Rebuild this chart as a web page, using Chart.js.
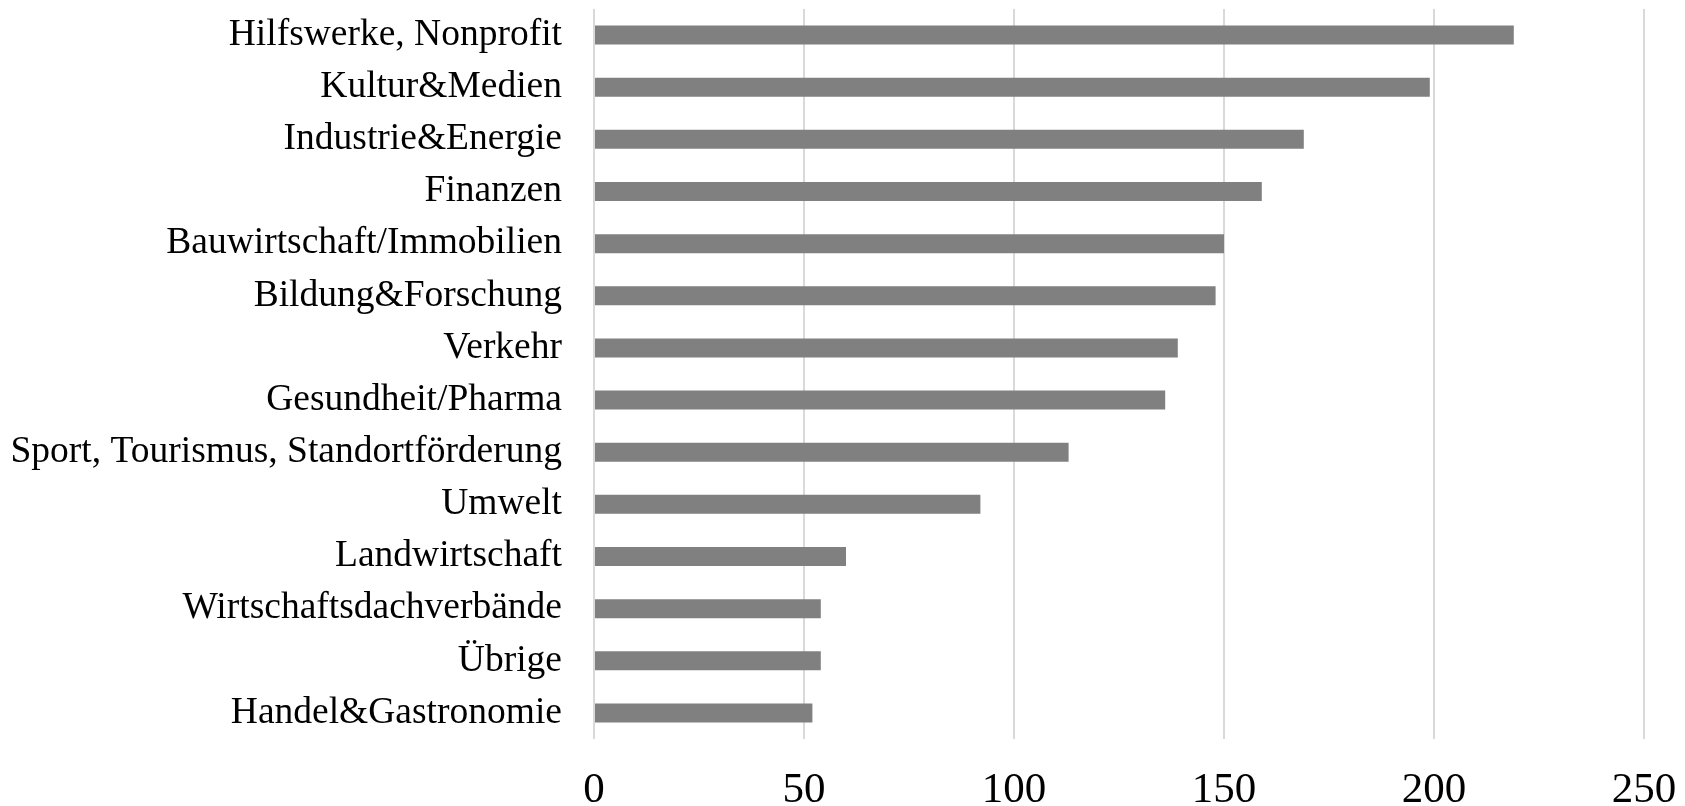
<!DOCTYPE html>
<html>
<head>
<meta charset="utf-8">
<script src="https://cdn.jsdelivr.net/npm/chart.js@4/dist/chart.umd.min.js"></script>
<style>
  html, body { margin: 0; padding: 0; background: #fff; }
  #wrap { width: 1685px; height: 806px; }
</style>
</head>
<body>
<div id="wrap"><canvas id="branchen_chart"></canvas></div>
<script>
// Categories and values
const categories = [
    "Hilfswerke, Nonprofit",
    "Kultur&Medien",
    "Industrie&Energie",
    "Finanzen",
    "Bauwirtschaft/Immobilien",
    "Bildung&Forschung",
    "Verkehr",
    "Gesundheit/Pharma",
    "Sport, Tourismus, Standortförderung",
    "Umwelt",
    "Landwirtschaft",
    "Wirtschaftsdachverbände",
    "Übrige",
    "Handel&Gastronomie",
];
const counts = [219, 199, 169, 159, 150, 148, 139, 136, 113, 92, 60, 54, 54, 52];
const xTicks = [0, 50, 100, 150, 200, 250];

const branchen_chart = document.getElementById("branchen_chart");
new Chart(branchen_chart, {
    type: "bar",
    data: {
        labels: categories,
        datasets: [
            {
                data: counts,
                backgroundColor: "#808080",
                borderWidth: 0,
                barPercentage: 0.364,
                categoryPercentage: 1,
            },
        ],
    },
    options: {
        indexAxis: "y",
        responsive: true,
        maintainAspectRatio: false,
        animation: false,
        layout: {
            padding: { top: 9, right: 41, left: 0, bottom: 0 },
        },
        plugins: {
            legend: { display: false },
            tooltip: { enabled: false },
        },
        scales: {
            x: {
                min: 0,
                max: 250,
                afterBuildTicks: (scale) => {
                    scale.ticks = xTicks.map((v) => ({ value: v }));
                },
                afterFit: (scale) => {
                    // fixed axis height, let layout padding decide the right edge
                    scale.height = 67;
                    scale.paddingLeft = 0;
                    scale.paddingRight = 0;
                },
                grid: { color: "#d9d9d9", lineWidth: 2, drawTicks: false },
                border: { display: false },
                ticks: {
                    color: "#000",
                    padding: 26,
                    maxRotation: 0,
                    font: { family: "'Liberation Serif', 'Times New Roman', serif", size: 43 },
                },
            },
            y: {
                afterFit: (scale) => {
                    // fixed axis width, no extra label padding above/below
                    scale.width = 594;
                    scale.paddingTop = 0;
                    scale.paddingBottom = 0;
                },
                grid: { display: false, drawTicks: false },
                border: { display: false },
                ticks: {
                    color: "#000",
                    padding: 32,
                    autoSkip: false,
                    font: { family: "'Liberation Serif', 'Times New Roman', serif", size: 37.5 },
                },
            },
        },
    },
});
</script>
</body>
</html>
